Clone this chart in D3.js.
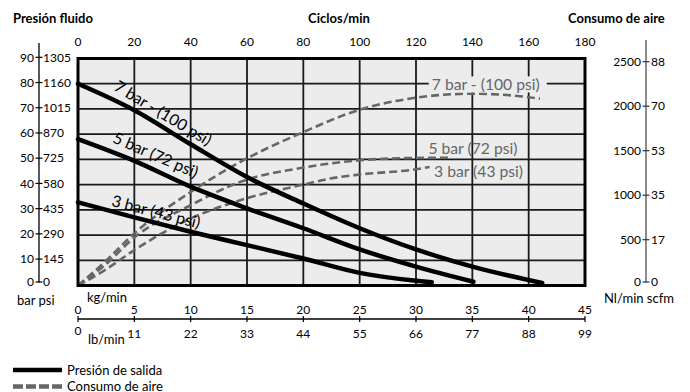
<!DOCTYPE html>
<html><head><meta charset="utf-8">
<script src="https://cdn.jsdelivr.net/npm/d3@7"></script>
<style>html,body{margin:0;padding:0;background:#fff;}svg{display:block;font-family:Lato,"Open Sans",sans-serif;}</style>
</head><body><svg id="c" width="690" height="392"></svg>
<script>
// ---- data ----
const cyclesTicks = [0,20,40,60,80,100,120,140,160,180];
const kgTicks = [0,5,10,15,20,25,30,35,40,45];
const lbTicks = [0,11,22,33,44,55,66,77,88,99];
const barTicks = [0,10,20,30,40,50,60,70,80,90];
const psiTicks = [0,145,290,435,580,725,870,1015,1160,1305];
const nlTicks = [0,500,1000,1500,2000,2500];
const scfmTicks = [0,17,35,53,70,88];

const press7Kg  = [0,5,10,15,20,25,30,35,41.2];
const press7Bar = [80,69.5,56,43,32.5,22.7,14.3,7.5,1];
const press5Kg  = [0,5,10,15,20,25,30,35.1];
const press5Bar = [58,49.4,39.2,30.6,22.7,14.3,7.5,1.5];
const press3Kg  = [0,5,10,15,20,25,30,31.4];
const press3Bar = [33,27,21.3,16,10.7,5,1.9,1.3];

const air7Kg = [0,2.4,5,10,14.4,20,25,30,35,40,41];
const air7Nl = [0,267,585,1051,1388,1724,1975,2110,2155,2116,2098];
const air5Kg = [0,2.4,5,10,14.4,20,25,30,33];
const air5Nl = [0,230,540,902,1164,1325,1407,1433,1435];
const air3Kg = [0,2.4,5,10,14.4,20,22.4,25,30,31.2];
const air3Nl = [0,174,398,753,958,1134,1202,1247,1306,1332];

const pressLabels = ["7 bar - (100 psi)","5 bar (72 psi)","3 bar (43 psi)"];
const airLabels = ["7 bar - (100 psi)","5 bar (72 psi)","3 bar (43 psi)"];

// ---- layout ----
const L=78,R=585,T=58.5,B=285.5;
const svg=d3.select("#c");
const x=d3.scaleLinear().domain([0,45]).range([L,R]);
const xc=d3.scaleLinear().domain([0,180]).range([L,R]);
const yBar=d3.scaleLinear().domain([0,90]).range([B,T]);
const yAir=d3.scaleLinear().domain([0,2500]).range([B,63]);

// plot background
svg.append("rect").attr("x",L).attr("y",T).attr("width",R-L).attr("height",B-T).attr("fill","#ececec");
// grid
const g=svg.append("g").attr("stroke","#1a1a1a").attr("stroke-width",1.8);
kgTicks.slice(1,-1).forEach(k=>g.append("line").attr("x1",x(k)).attr("x2",x(k)).attr("y1",T).attr("y2",B));
barTicks.slice(1,-1).forEach(b=>g.append("line").attr("x1",L).attr("x2",R).attr("y1",yBar(b)).attr("y2",yBar(b)));

// air consumption (dashed)
const airSeries=[[air7Kg,air7Nl],[air5Kg,air5Nl],[air3Kg,air3Nl]];
const lineAir=d3.line().x(d=>x(d[0])).y(d=>yAir(d[1])).curve(d3.curveMonotoneX);
airSeries.forEach(([k,v])=>{
  svg.append("path").datum(k.map((kk,i)=>[kk,v[i]])).attr("d",lineAir)
    .attr("fill","none").attr("stroke","#666").attr("stroke-width",2.6).attr("stroke-dasharray","8,4");
});
// air labels
const airLabelPos=[[31.4,2192,true],[31.1,1474,false],[31.6,1216,false]];
airLabels.forEach((t,i)=>{
  const p=airLabelPos[i];
  const tx=svg.append("text").attr("x",x(p[0])).attr("y",yAir(p[1])).attr("font-size",15.7).attr("fill","#666").text(t);
  if(p[2]){
    const bb=tx.node().getBBox();
    svg.insert("rect",()=>tx.node()).attr("x",bb.x-3).attr("y",bb.y+1).attr("width",bb.width+10).attr("height",bb.height-2).attr("fill","#ececec");
  }
});

// pressure (solid)
const pressSeries=[[press7Kg,press7Bar],[press5Kg,press5Bar],[press3Kg,press3Bar]];
const lineP=d3.line().x(d=>x(d[0])).y(d=>yBar(d[1])).curve(d3.curveMonotoneX);
pressSeries.forEach(([k,v])=>{
  svg.append("path").datum(k.map((kk,i)=>[kk,v[i]])).attr("d",lineP)
    .attr("fill","none").attr("stroke","#000").attr("stroke-width",4.5).attr("stroke-linecap","round");
});
const pressLabelPos=[[7.55,68.4,31],[6.9,51.8,23.5],[6.93,29.3,14.5]];
pressLabels.forEach((t,i)=>{
  const p=pressLabelPos[i];
  svg.append("text").attr("transform",`translate(${x(p[0])},${yBar(p[1])}) rotate(${p[2]})`)
    .attr("text-anchor","middle").attr("dy","0.36em").attr("font-size",16).attr("fill","#000").text(t);
});

// border
svg.append("rect").attr("x",L).attr("y",T).attr("width",R-L).attr("height",B-T).attr("fill","none").attr("stroke","#000").attr("stroke-width",3);

// titles
const title=(t,xx,anchor)=>svg.append("text").attr("x",xx).attr("y",23).attr("font-size",13).attr("font-weight","bold").attr("text-anchor",anchor).text(t);
title("Presión fluido",13,"start");
title("Ciclos/min",339,"middle");
title("Consumo de aire",568,"start");

// top axis labels (cycles)
cyclesTicks.forEach(c=>svg.append("text").attr("x",xc(c)).attr("y",45.5).attr("font-size",12).attr("text-anchor","middle").text(c));

// left axis
const LA=39;
svg.append("line").attr("x1",LA).attr("x2",LA).attr("y1",43).attr("y2",B-3).attr("stroke","#000").attr("stroke-width",1.3);
barTicks.forEach((b,i)=>{
  const yy=yBar(b)-(i===0?3.5:1.2);
  svg.append("line").attr("x1",LA-3.5).attr("x2",LA+3.5).attr("y1",yy).attr("y2",yy).attr("stroke","#000").attr("stroke-width",1.2);
  svg.append("text").attr("x",LA-5).attr("y",yy).attr("dy","0.35em").attr("font-size",12).attr("text-anchor","end").text(b);
  svg.append("text").attr("x",LA+4).attr("y",yy).attr("dy","0.35em").attr("font-size",12).attr("text-anchor","start").text(psiTicks[i]);
});
svg.append("text").attr("x",17).attr("y",305).attr("font-size",13).text("bar psi");

// right axis
const RA=646;
svg.append("line").attr("x1",RA).attr("x2",RA).attr("y1",40).attr("y2",B-3).attr("stroke","#666").attr("stroke-width",1.5);
nlTicks.forEach((n,i)=>{
  const yy=yAir(n)-(i===0?3.5:1.3);
  svg.append("line").attr("x1",RA-3.5).attr("x2",RA+3.5).attr("y1",yy).attr("y2",yy).attr("stroke","#333").attr("stroke-width",1.2);
  svg.append("text").attr("x",RA-5).attr("y",yy).attr("dy","0.35em").attr("font-size",12).attr("text-anchor","end").text(n);
  svg.append("text").attr("x",RA+5).attr("y",yy).attr("dy","0.35em").attr("font-size",12).attr("text-anchor","start").text(scfmTicks[i]);
});
svg.append("text").attr("x",639).attr("y",302.5).attr("font-size",13).attr("text-anchor","middle").text("Nl/min scfm");

// bottom axis kg/min & lb/min
const BA=319;
svg.append("line").attr("x1",L).attr("x2",R).attr("y1",BA).attr("y2",BA).attr("stroke","#000").attr("stroke-width",1.3);
kgTicks.forEach((k,i)=>{
  svg.append("line").attr("x1",x(k)).attr("x2",x(k)).attr("y1",BA-3).attr("y2",BA+3).attr("stroke","#000").attr("stroke-width",1.2);
  svg.append("text").attr("x",x(k)).attr("y",314).attr("font-size",12).attr("text-anchor","middle").text(k);
  svg.append("text").attr("x",x(k)).attr("y",i===0?335:337.5).attr("font-size",12).attr("text-anchor","middle").text(lbTicks[i]);
});
svg.append("text").attr("x",87).attr("y",302).attr("font-size",13).text("kg/min");
svg.append("text").attr("x",88).attr("y",344).attr("font-size",13).text("lb/min");

// legend
svg.append("line").attr("x1",13).attr("x2",62).attr("y1",370).attr("y2",370).attr("stroke","#000").attr("stroke-width",4.5);
svg.append("text").attr("x",67).attr("y",374.5).attr("font-size",13).text("Presión de salida");
svg.append("line").attr("x1",13).attr("x2",62).attr("y1",386.5).attr("y2",386.5).attr("stroke","#666").attr("stroke-width",4.5).attr("stroke-dasharray","10,3");
svg.append("text").attr("x",67).attr("y",390.5).attr("font-size",13).text("Consumo de aire");
</script></body></html>
